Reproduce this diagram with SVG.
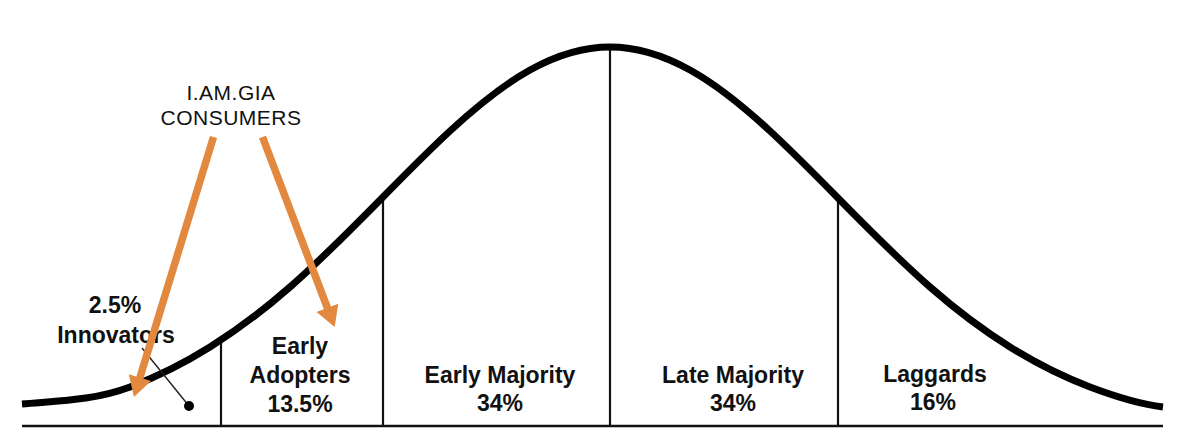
<svg xmlns="http://www.w3.org/2000/svg" width="1178" height="442" viewBox="0 0 1178 442">
  <style>
    .lbl { font-family: "Liberation Sans", Arial, sans-serif; font-weight: bold; font-size: 23px; fill: #111; text-anchor: middle; }
    .note { font-family: "Liberation Sans", Arial, sans-serif; font-size: 21px; fill: #111; text-anchor: middle; letter-spacing: 0.5px; }
    .div { stroke: #111; stroke-width: 2.2; fill: none; }
    .arrow { stroke: #E2883F; stroke-width: 7.5; fill: none; marker-end: url(#head); }
  </style>
  <defs>
    <marker id="head" markerUnits="strokeWidth" markerWidth="3" markerHeight="3.2" refX="0.4" refY="1.55" orient="auto" overflow="visible">
      <path d="M0,0 L2.7,1.55 L0,3.1 z" fill="#E2883F"/>
    </marker>
  </defs>
  <rect width="1178" height="442" fill="#ffffff"/>

  <g id="chart">
    <line class="div" x1="221" y1="343" x2="221" y2="426"/>
    <line class="div" x1="383" y1="197" x2="383" y2="426"/>
    <line class="div" x1="610" y1="47" x2="610" y2="426"/>
    <line class="div" x1="838" y1="197" x2="838" y2="426"/>
    <line x1="22" y1="426" x2="1163" y2="426" stroke="#111" stroke-width="2.6"/>
    <path d="M22,404 C58,400.8 94,400.6 130,387 C156.67,376.9 183.33,363.7 210,347 C236.67,330.3 263.33,310.4 290,287 C321,259.8 352,228.6 383,197 C405.33,174.3 427.67,151.6 450,131 C476.67,106.4 503.33,84.8 530,70 C556.67,55.2 583.33,47 610,47 C636.67,47 663.33,55.2 690,70 C716.67,84.8 743.33,106.4 770,131 C792.33,151.6 814.67,174.3 837,197 C868,228.6 899,259.8 930,287 C956.67,310.4 983.33,330.3 1010,347 C1036.67,363.7 1063.33,376.9 1090,387 C1114.33,396.2 1138.67,404.1 1163,407" fill="none" stroke="#000" stroke-width="7"/>
  </g>

  <g id="innovators">
    <text class="lbl" x="115" y="313">2.5%</text>
    <text class="lbl" x="116" y="343">Innovators</text>
    <line x1="142" y1="348" x2="189" y2="406" stroke="#222" stroke-width="1.4"/>
    <circle cx="189" cy="406" r="5" fill="#000"/>
  </g>
  <g id="early-adopters">
    <text class="lbl" x="300" y="354">Early</text>
    <text class="lbl" x="300" y="383">Adopters</text>
    <text class="lbl" x="300" y="412">13.5%</text>
  </g>
  <g id="early-majority">
    <text class="lbl" x="500" y="383">Early Majority</text>
    <text class="lbl" x="500" y="411">34%</text>
  </g>
  <g id="late-majority">
    <text class="lbl" x="733" y="383">Late Majority</text>
    <text class="lbl" x="733" y="411">34%</text>
  </g>
  <g id="laggards">
    <text class="lbl" x="935" y="382">Laggards</text>
    <text class="lbl" x="933" y="410">16%</text>
  </g>
  <g id="consumers">
    <text class="note" x="231" y="100">I.AM.GIA</text>
    <text class="note" x="231" y="125">CONSUMERS</text>
  </g>

  <g id="connectors">
    <line class="arrow" x1="213.5" y1="137" x2="139" y2="380.5"/>
    <line class="arrow" x1="262.5" y1="137" x2="328.5" y2="310.8"/>
  </g>
</svg>
